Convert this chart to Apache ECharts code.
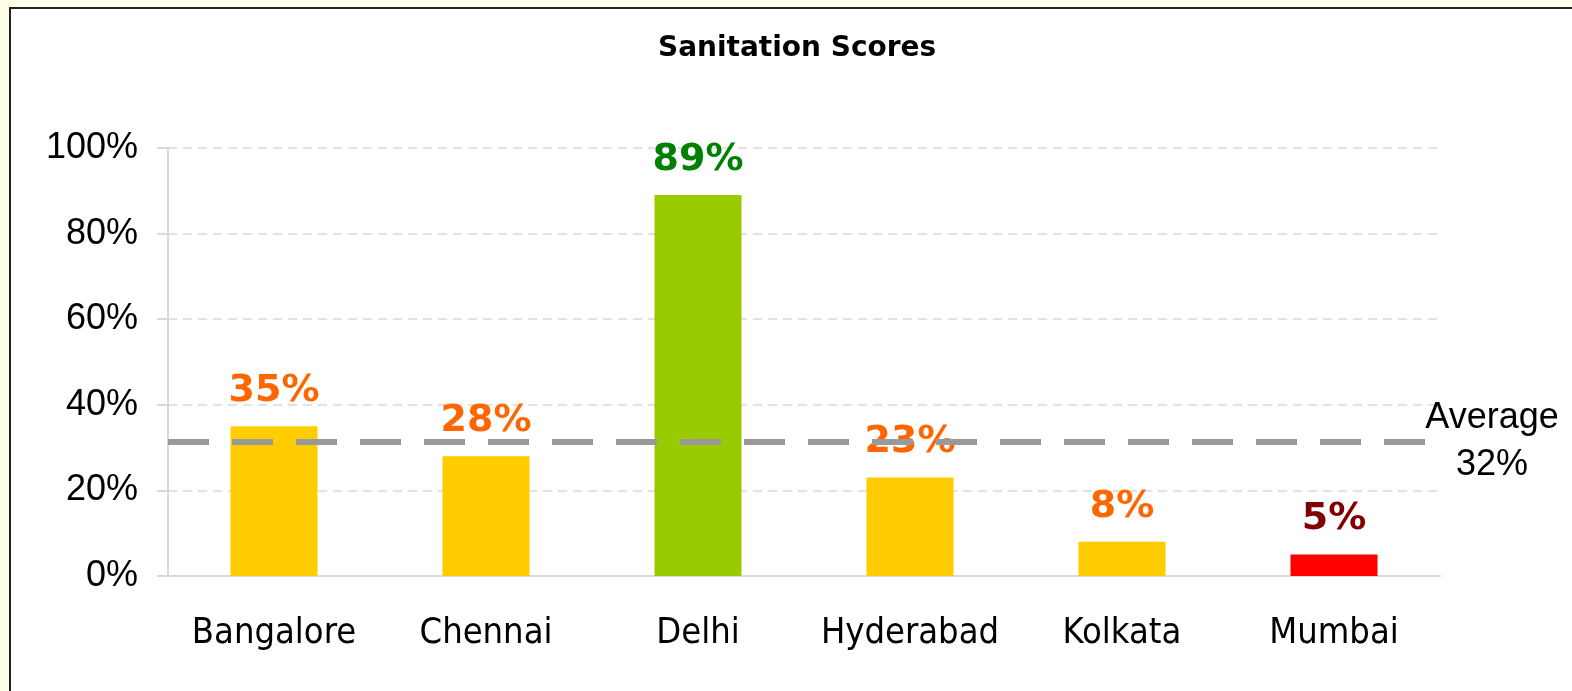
<!DOCTYPE html>
<html>
<head>
<meta charset="utf-8">
<title>Sanitation Scores</title>
<script src="https://cdn.jsdelivr.net/npm/echarts@6/dist/echarts.min.js"></script>
<style>
    html, body {
        margin: 0;
        padding: 0;
        background: #ffffe6;
        overflow: hidden;
    }

    .frame {
        position: absolute;
        left: 9px;
        top: 7px;
        width: 1600px;
        height: 720px;
        background: #fff;
        border: 2px solid #222;
    }

    #chart {
        position: absolute;
        left: 0;
        top: 0;
        width: 1572px;
        height: 691px;
    }
</style>
</head>
<body>
<div class="frame"></div>
<div id="chart"></div>
<script>
const cities = ['Bangalore', 'Chennai', 'Delhi', 'Hyderabad', 'Kolkata', 'Mumbai'];
const scores = [35, 28, 89, 23, 8, 5];
const barColors = ['#ffcc00', '#ffcc00', '#99cc00', '#ffcc00', '#ffcc00', '#ff0000'];
const labelColors = ['#ff6600', '#ff6600', '#008000', '#ff6600', '#ff6600', '#800000'];
const averageValue = 31.3;
const averageText = 'Average\n32%';
const yTicks = [0, 20, 40, 60, 80, 100];

let myChart = echarts.init(document.getElementById('chart'));

let option = {
    backgroundColor: 'transparent',
    title: {
        text: 'Sanitation Scores',
        left: 653,
        top: 30,
        textStyle: {
            fontFamily: 'DejaVu Sans',
            fontWeight: 'bold',
            fontSize: 28,
            color: '#000'
        }
    },
    grid: {
        left: 168,
        right: 132,
        top: 148,
        bottom: 115
    },
    xAxis: {
        type: 'category',
        data: cities,
        axisLine: {
            lineStyle: { color: '#d9d9d9', width: 2 }
        },
        axisTick: {
            interval: 0,
            length: 11,
            lineStyle: { color: '#d9d9d9', width: 2 }
        },
        axisLabel: {
            interval: 0,
            margin: 40,
            fontFamily: "'Liberation Sans Narrow', 'Arial Narrow', 'DejaVu Sans Condensed', sans-serif",
            fontSize: 36,
            color: '#000'
        }
    },
    yAxis: {
        type: 'value',
        min: yTicks[0],
        max: yTicks[yTicks.length - 1],
        interval: yTicks[1] - yTicks[0],
        axisLine: {
            show: true,
            lineStyle: { color: '#d9d9d9', width: 2 }
        },
        axisTick: {
            show: true,
            length: 11,
            lineStyle: { color: '#d9d9d9', width: 2 }
        },
        axisLabel: {
            margin: 30,
            formatter: '{value}%',
            fontFamily: "'Liberation Sans', Arial, sans-serif",
            fontSize: 36,
            color: '#000'
        },
        splitLine: {
            show: true,
            lineStyle: { color: '#d9d9d9', width: 1.5, type: [9, 6] }
        }
    },
    series: [{
        type: 'bar',
        barWidth: 87,
        data: scores.map((v, i) => ({
            value: v,
            itemStyle: { color: barColors[i] },
            label: { color: labelColors[i] }
        })),
        label: {
            show: true,
            position: 'top',
            distance: 16,
            formatter: '{c}%',
            fontFamily: 'DejaVu Sans',
            fontWeight: 'bold',
            fontSize: 38
        },
        markLine: {
            silent: true,
            symbol: 'none',
            data: [{ yAxis: averageValue }],
            lineStyle: {
                color: '#999999',
                width: 6,
                type: [41, 23]
            },
            label: {
                show: true,
                position: 'end',
                distance: 52,
                align: 'center',
                formatter: averageText,
                fontFamily: "'Liberation Sans', Arial, sans-serif",
                fontSize: 36,
                lineHeight: 47,
                color: '#000'
            },
            emphasis: { disabled: true }
        }
    }]
};

myChart.setOption(option, true);
window.addEventListener('resize', () => {
    myChart.resize();
});
</script>
</body>
</html>
